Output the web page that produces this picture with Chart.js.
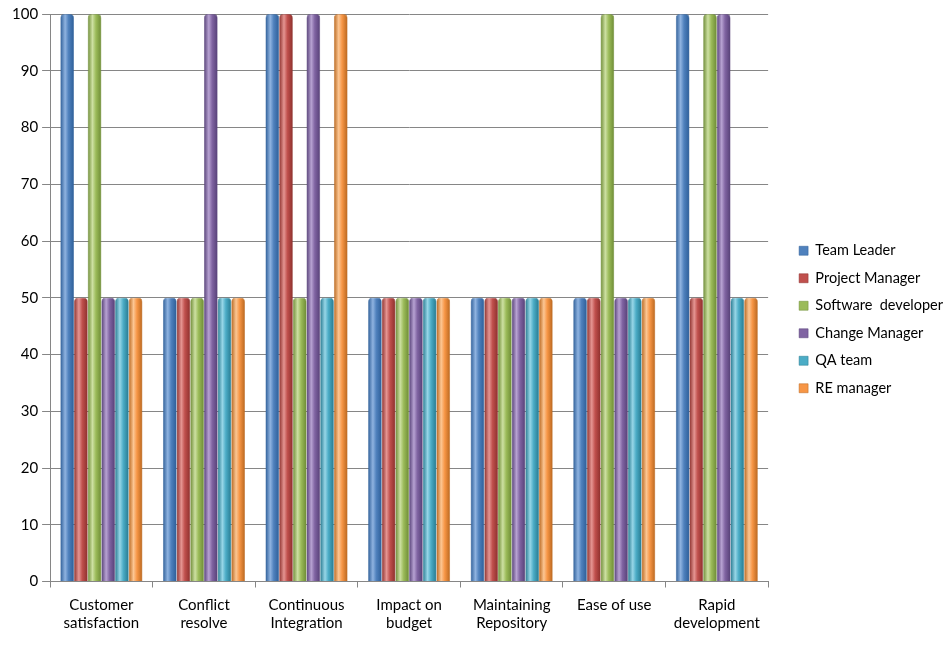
<!DOCTYPE html>
<html>
<head>
<meta charset="utf-8">
<script src="https://cdn.jsdelivr.net/npm/chart.js@4.4.0/dist/chart.umd.min.js"></script>
<style>
  body { margin: 0; background: #fff; }
  canvas { display: block; }
</style>
</head>
<body>
<canvas id="chart" width="948" height="646"></canvas>
<script>
const categories = [
  ['Customer', 'satisfaction'],
  ['Conflict', 'resolve'],
  ['Continuous', 'Integration'],
  ['Impact on', 'budget'],
  ['Maintaining', 'Repository'],
  ['Ease of use'],
  ['Rapid', 'development']
];
const seriesNames = ['Team Leader', 'Project Manager', 'Software  developer', 'Change Manager', 'QA team', 'RE manager'];
const teamLeader     = [100, 50, 100, 50, 50, 50, 100];
const projectManager = [50, 50, 100, 50, 50, 50, 50];
const softwareDev    = [100, 50, 50, 50, 50, 100, 100];
const changeManager  = [50, 100, 100, 50, 50, 50, 100];
const qaTeam         = [50, 50, 50, 50, 50, 50, 50];
const reManager      = [50, 50, 100, 50, 50, 50, 50];
const yTicks = [0, 10, 20, 30, 40, 50, 60, 70, 80, 90, 100];

const colors = [
  ['#2c5d97', '#4f81bd', '#8fb3e0'],
  ['#8c2f2c', '#c0504d', '#e59592'],
  ['#6c8a34', '#9bbb59', '#cde0a2'],
  ['#553f76', '#8064a2', '#b7a2d2'],
  ['#26798f', '#4bacc6', '#97d6e7'],
  ['#b8661e', '#f79646', '#fcc693']
];

function cylinder(i) {
  return function (ctx) {
    const chart = ctx.chart;
    const meta = chart.getDatasetMeta(ctx.datasetIndex);
    const el = meta.data && meta.data[ctx.dataIndex];
    if (!el || !isFinite(el.x) || !el.width) return colors[i][1];
    const g = chart.ctx.createLinearGradient(el.x - el.width / 2, 0, el.x + el.width / 2, 0);
    g.addColorStop(0, colors[i][0]);
    g.addColorStop(0.35, colors[i][2]);
    g.addColorStop(0.6, colors[i][1]);
    g.addColorStop(1, colors[i][0]);
    return g;
  };
}

const seriesData = [teamLeader, projectManager, softwareDev, changeManager, qaTeam, reManager];
const font = { family: 'Lato', size: 15 };

const chart = new Chart('chart', {
  type: 'bar',
  data: {
    labels: categories,
    datasets: seriesData.map((d, i) => ({
      label: seriesNames[i],
      data: d,
      backgroundColor: cylinder(i),
      borderColor: colors[i][0],
      borderWidth: 0.5,
      borderRadius: { topLeft: 4, topRight: 4 },
      borderSkipped: 'bottom',
      barPercentage: 1,
      categoryPercentage: 0.8
    }))
  },
  options: {
    responsive: false,
    animation: false,
    layout: { padding: { top: 14, right: 0, bottom: 5, left: 8 } },
    plugins: {
      legend: {
        position: 'right',
        labels: {
          generateLabels: chart => seriesNames.map((n, i) => ({
            text: n, fillStyle: colors[i][1], strokeStyle: colors[i][0], lineWidth: 0.5,
            datasetIndex: i, hidden: false
          })),
          boxWidth: 9,
          boxHeight: 9,
          padding: 13,
          color: '#000',
          font: { family: 'Lato', size: 14.5 }
        }
      },
      tooltip: { enabled: false }
    },
    scales: {
      x: {
        grid: { display: true, drawOnChartArea: false, color: '#868686', tickLength: 6, offset: true },
        border: { color: '#868686' },
        ticks: { color: '#000', font: { family: 'Lato', size: 15, lineHeight: 1.25 }, maxRotation: 0, padding: 8 }
      },
      y: {
        min: 0,
        max: 100,
        afterBuildTicks: axis => { axis.ticks = yTicks.map(v => ({ value: v })); },
        grid: { color: '#868686', tickLength: 8 },
        border: { color: '#868686' },
        ticks: { color: '#000', font: font, padding: 4 }
      }
    }
  }
});

// widen the legend box and push its items right, leaving a gap after the plot
const legendFit = chart.legend.fit;
chart.legend.fit = function () { legendFit.call(this); this.width += 13; };
const legendDraw = chart.legend.draw;
chart.legend.draw = function () {
  const c = this.ctx;
  c.save();
  c.translate(18, -8);
  legendDraw.call(this);
  c.restore();
};
chart.update();
chart.update(); // second pass so the bar gradients use the final bar positions
</script>
</body>
</html>
